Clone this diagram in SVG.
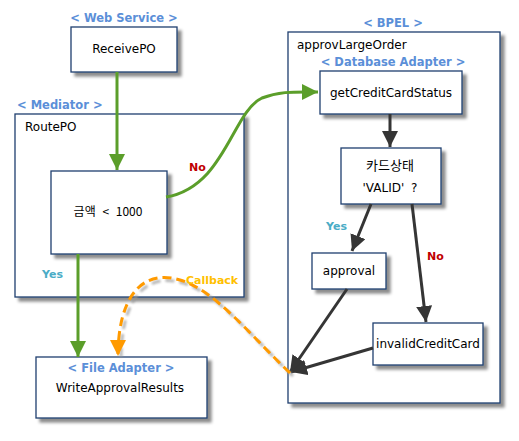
<svg xmlns="http://www.w3.org/2000/svg" width="519" height="441" viewBox="0 0 519 441">
<style>
.box{fill:#fff;stroke:#1f3f6f;stroke-width:1.3;filter:url(#sh)}
.t{font-family:"DejaVu Sans","Noto Sans CJK KR",sans-serif;font-size:12px;fill:#000}
.k{font-family:"Noto Sans CJK KR","DejaVu Sans",sans-serif;font-size:13px;fill:#000}
.lbl{font-family:"DejaVu Sans",sans-serif;font-size:11.5px;font-weight:bold;fill:#5b8fd8}
.g{fill:none;stroke:#5b9e2a;stroke-width:3}
.d{fill:none;stroke:#353535;stroke-width:3}
.yes{font-family:"DejaVu Sans",sans-serif;font-size:11px;font-weight:bold;fill:#4bacc6}
.no{font-family:"DejaVu Sans",sans-serif;font-size:11px;font-weight:bold;fill:#c00000}
</style>
<defs>
<filter id="sh" x="-10%" y="-10%" width="130%" height="130%">
<feGaussianBlur in="SourceAlpha" stdDeviation="1.5"/>
<feOffset dx="4" dy="4" result="b"/>
<feFlood flood-color="#000" flood-opacity="0.45"/>
<feComposite in2="b" operator="in"/>
<feMerge><feMergeNode/><feMergeNode in="SourceGraphic"/></feMerge>
</filter>
<filter id="blur"><feGaussianBlur stdDeviation="1"/></filter>
<marker id="ag" markerUnits="userSpaceOnUse" markerWidth="18" markerHeight="16" refX="16" refY="8" orient="auto"><path d="M0,0 L16,8 L0,16 Z" fill="#5b9e2a"/></marker>
<marker id="ad" markerUnits="userSpaceOnUse" markerWidth="18" markerHeight="16" refX="16" refY="8" orient="auto"><path d="M0,0 L16,8 L0,16 Z" fill="#353535"/></marker>
<marker id="ao" markerUnits="userSpaceOnUse" markerWidth="18" markerHeight="16" refX="16" refY="8" orient="auto"><path d="M0,0 L16,8 L0,16 Z" fill="#ff9a00"/></marker>
</defs>

<g id="routepo">
<text class="lbl" x="17" y="109">&lt; Mediator &gt;</text>
<rect class="box" x="15" y="114" width="229" height="183"/>
<text class="t" x="25" y="131">RoutePO</text>
</g>
<g id="approvLargeOrder">
<text class="lbl" x="393" y="27" text-anchor="middle">&lt; BPEL &gt;</text>
<rect class="box" x="288" y="32" width="212" height="371"/>
<text class="t" x="297" y="49">approvLargeOrder</text>
</g>

<g id="receivepo">
<text class="lbl" x="124" y="22" text-anchor="middle">&lt; Web Service &gt;</text>
<rect class="box" x="71" y="27" width="106" height="45"/>
<text class="t" x="124" y="53" text-anchor="middle">ReceivePO</text>
</g>
<g id="amount">
<rect class="box" x="51" y="171" width="116" height="83"/>
<text class="k" x="108" y="216" text-anchor="middle" style="font-size:12px;word-spacing:4px">금액 &lt; 1000</text>
</g>
<g id="writeapproval">
<rect class="box" x="36" y="357" width="171" height="61"/>
<text class="lbl" x="121" y="372" text-anchor="middle">&lt; File Adapter &gt;</text>
<text class="t" x="120" y="392" text-anchor="middle">WriteApprovalResults</text>
</g>
<g id="getcredit">
<text class="lbl" x="393" y="66" text-anchor="middle">&lt; Database Adapter &gt;</text>
<rect class="box" x="320" y="71" width="142" height="43"/>
<text class="t" x="391" y="97" text-anchor="middle">getCreditCardStatus</text>
</g>
<g id="cardstatus">
<rect class="box" x="341" y="148" width="100" height="56"/>
<text class="k" x="390" y="170" text-anchor="middle">카드상태</text>
<text class="t" x="390" y="192" text-anchor="middle" style="word-spacing:3px">'VALID' ?</text>
</g>
<g id="approval">
<rect class="box" x="312" y="253" width="74" height="36"/>
<text class="t" x="349" y="275" text-anchor="middle">approval</text>
</g>
<g id="invalid">
<rect class="box" x="373" y="323" width="110" height="42"/>
<text class="t" x="428" y="348" text-anchor="middle">invalidCreditCard</text>
</g>

<g id="connectors">
<path class="g" d="M117,72 L117,170" marker-end="url(#ag)"/>
<path class="g" d="M166,197 C225,187 232,112 262,98 C280,91 295,92 318,92" marker-end="url(#ag)"/>
<path class="g" d="M78,254 L78,357" marker-end="url(#ag)"/>
<path class="d" d="M390,114 L390,147" marker-end="url(#ad)"/>
<path class="d" d="M371,204 L352,251" marker-end="url(#ad)"/>
<path class="d" d="M412,204 L426,322" marker-end="url(#ad)"/>
<path class="d" d="M347,289 L290,372" marker-end="url(#ad)"/>
<path class="d" d="M373,348 L291,372" marker-end="url(#ad)"/>
<path d="M290,373 C250,335 215,290 180,280 C140,268 118,300 118,356" fill="none" stroke="#999" stroke-width="3" stroke-dasharray="9,5" transform="translate(3,3)" filter="url(#blur)" opacity="0.7"/>
<path d="M290,373 C250,335 215,290 180,280 C140,268 118,300 118,356" fill="none" stroke="#ff9a00" stroke-width="3" stroke-dasharray="9,5" marker-end="url(#ao)"/>
<text class="no" x="189" y="171">No</text>
<text class="yes" x="42" y="278">Yes</text>
<text x="186" y="284" style="font-family:'DejaVu Sans',sans-serif;font-size:11px;font-weight:bold;fill:#ffc000">Callback</text>
<text class="yes" x="326" y="230">Yes</text>
<text class="no" x="427" y="260">No</text>
</g>
</svg>
